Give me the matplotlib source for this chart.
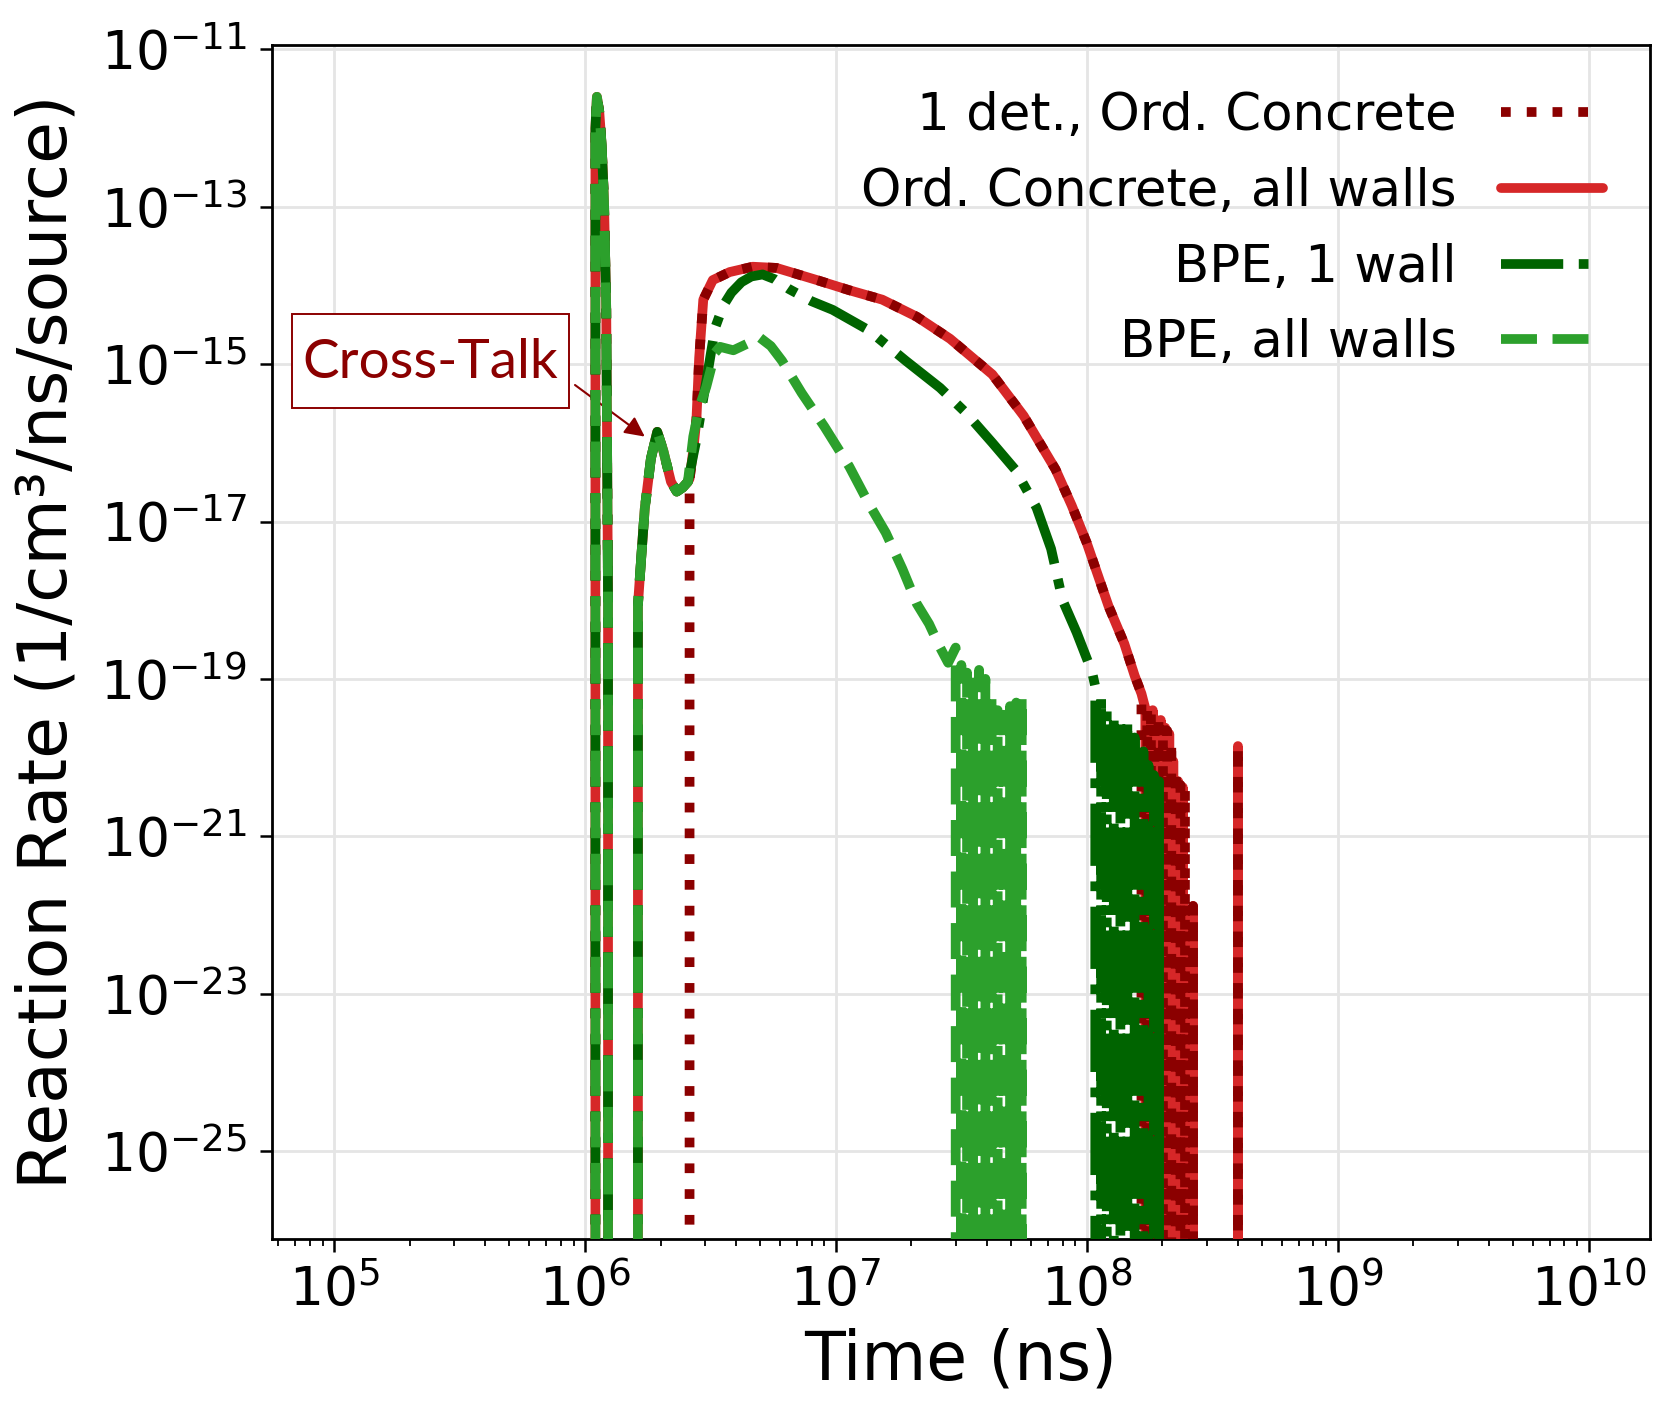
import numpy as np
import matplotlib
matplotlib.use("Agg")
import matplotlib.pyplot as plt
from matplotlib.ticker import NullLocator, LogLocator
from matplotlib.patches import Rectangle

# ---------------- data ----------------
# shared early spike (all four series overlap)
spike_t = [1.09e6, 1.10e6, 1.115e6, 1.14e6, 1.165e6, 1.19e6, 1.215e6, 1.235e6, 1.25e6]
spike_r = [0, 1e-12, 2.5e-12, 1.6e-12, 6e-13, 1.2e-13, 5e-15, 1e-18, 0]

# cross-talk bump (all-wall runs and BPE 1 wall)
bump_t = [1.60e6, 1.625e6, 1.68e6, 1.73e6, 1.83e6, 1.94e6, 2.05e6, 2.20e6, 2.32e6, 2.45e6, 2.57e6]
bump_r = [0, 8.7e-19, 4e-18, 1.45e-17, 6.3e-17, 1.38e-16, 8e-17, 3.2e-17, 2.4e-17, 2.7e-17, 3.2e-17]
bump_r_1det = [0, 0, 0, 0, 0, 0, 0, 0, 0, 0, 0]

# Ordinary concrete, main hump + tail
conc_t = [2.61e6, 2.70e6, 2.78e6, 2.85e6, 2.96e6, 3.23e6, 3.77e6, 4.66e6, 5.8e6, 8.4e6,
          1.13e7, 1.53e7, 2.1e7, 2.85e7, 4.2e7, 5.6e7, 7.5e7, 8.7e7, 1.0e8, 1.22e8,
          1.41e8, 1.55e8, 1.65e8,
          1.71e8, 1.74e8, 1.77e8, 1.80e8, 1.83e8, 1.86e8, 1.89e8, 1.93e8, 1.97e8, 2.01e8,
          2.05e8, 2.09e8, 2.13e8, 2.17e8, 2.21e8, 2.26e8, 2.31e8, 2.36e8, 2.41e8, 2.46e8,
          2.60e8, 2.65e8, 2.70e8,
          3.95e8, 4.00e8, 4.05e8]
conc_all_r = [3.5e-17, 8e-17, 2e-16, 1.2e-15, 6.6e-15, 1.17e-14, 1.48e-14, 1.73e-14, 1.67e-14, 1.17e-14,
              8.7e-15, 6.6e-15, 4e-15, 2.1e-15, 7.4e-16, 2.2e-16, 4.6e-17, 1.6e-17, 5.3e-18, 8.4e-19,
              2.8e-19, 1.1e-19, 6.5e-20,
              4.2e-20, 0, 3.5e-20, 0, 4e-20, 0, 3e-20, 0, 3e-20, 0,
              2.4e-20, 0, 2e-20, 0, 9e-21, 0, 5e-21, 0, 4.2e-21, 0,
              0, 1.3e-22, 0,
              0, 1.4e-20, 0]
conc_1det_r = [3.4e-17, 8e-17, 2e-16, 1.2e-15, 6.6e-15, 1.17e-14, 1.48e-14, 1.73e-14, 1.67e-14, 1.17e-14,
               8.7e-15, 6.6e-15, 4e-15, 2.1e-15, 7.4e-16, 2.2e-16, 4.6e-17, 1.6e-17, 5.3e-18, 8.4e-19,
               2.8e-19, 1.1e-19, 6.5e-20,
               0, 4e-20, 0, 3.8e-20, 0, 3.2e-20, 0, 3.4e-20, 0, 2.6e-20,
               0, 2.2e-20, 0, 1.6e-20, 0, 7e-21, 0, 4.5e-21, 0, 4e-21,
               0, 1.3e-22, 0,
               0, 1.4e-20, 0]

# BPE, 1 wall
bpe1_t = [2.61e6, 2.70e6, 2.78e6, 2.90e6, 3.04e6, 3.3e6, 3.55e6, 3.83e6, 4.2e6, 4.6e6,
          5.1e6, 5.7e6, 6.5e6, 8.0e6, 9.7e6, 1.35e7, 1.9e7, 2.6e7, 3.3e7, 4.2e7,
          5.2e7, 6.3e7, 7.2e7, 8.0e7, 9.1e7, 1.0e8, 1.05e8,
          1.08e8, 1.11e8, 1.14e8, 1.17e8, 1.20e8, 1.24e8, 1.28e8, 1.32e8, 1.36e8, 1.40e8,
          1.45e8, 1.50e8, 1.55e8, 1.58e8, 1.66e8, 1.68e8, 1.72e8, 1.76e8, 1.80e8, 1.85e8,
          1.90e8, 1.94e8, 1.97e8]
bpe1_r = [4e-17, 7e-17, 1.1e-16, 2.5e-16, 6e-16, 2.9e-15, 5.5e-15, 8.1e-15, 1.1e-14, 1.3e-14,
          1.38e-14, 1.2e-14, 9e-15, 6.3e-15, 4.9e-15, 2.7e-15, 1.1e-15, 5e-16, 2.4e-16, 1e-16,
          4.5e-17, 1.5e-17, 4.5e-18, 1e-18, 3.9e-19, 1.8e-19, 1.2e-19,
          8e-20, 0, 6e-20, 0, 4e-20, 0, 3.5e-20, 0, 2.8e-20, 0,
          3e-20, 0, 1.8e-20, 0, 0, 1.2e-20, 0, 8e-21, 0, 6e-21,
          0, 5e-21, 0]

# BPE, all walls
bpeall_t = [2.70e6, 2.85e6, 3.04e6, 3.3e6, 3.45e6, 3.9e6, 4.5e6, 4.95e6, 5.5e6, 6.1e6,
            7.3e6, 9.0e6, 1.13e7, 1.35e7, 1.58e7, 1.84e7, 2.1e7, 2.35e7, 2.6e7, 2.8e7,
            3.0e7, 3.08e7, 3.16e7, 3.24e7, 3.33e7, 3.42e7, 3.52e7, 3.62e7, 3.72e7, 3.83e7,
            3.94e7, 4.05e7, 4.17e7, 4.29e7, 4.41e7, 4.54e7, 4.67e7, 4.80e7, 4.94e7, 5.08e7,
            5.23e7, 5.38e7, 5.50e7, 5.60e7]
bpeall_r = [1.2e-16, 2.8e-16, 5.1e-16, 1.4e-15, 1.66e-15, 1.5e-15, 1.86e-15, 2.2e-15, 1.7e-15, 1.1e-15,
            4.3e-16, 1.6e-16, 5e-17, 1.7e-17, 7.2e-18, 2.5e-18, 9e-19, 5e-19, 2.5e-19, 1.6e-19,
            2.5e-19, 0, 1.5e-19, 0, 1.2e-19, 0, 9e-20, 0, 1.3e-19, 0,
            1e-19, 0, 6e-20, 0, 4e-20, 0, 3.5e-20, 0, 4.5e-20, 0,
            5e-20, 0, 6e-20, 0]

labels = ["1 det., Ord. Concrete", "Ord. Concrete, all walls", "BPE, 1 wall", "BPE, all walls"]

# ---------------- figure ----------------
plt.rcParams['font.family'] = ['DejaVu Sans']
fig = plt.figure(figsize=(16.53, 14.04), dpi=100)
ax = fig.add_axes([0.1646, 0.1175, 0.8334, 0.8505])
ax.set_xscale('log')
ax.set_yscale('log')

lw = 7
common = dict(lw=lw, solid_joinstyle='round', dash_joinstyle='round', solid_capstyle='round')

t_all = spike_t + bump_t + conc_t
ax.plot(t_all, spike_r + bump_r + conc_all_r, color='#d62728', ls='-', label=labels[1], zorder=3, **common)
ax.plot(t_all, spike_r + bump_r_1det + conc_1det_r, color='#8b0000', ls=':', label=labels[0], zorder=4, **common)
ax.plot(spike_t + bump_t + bpe1_t, spike_r + bump_r + bpe1_r, color='#006400', ls='-.', label=labels[2], zorder=5, **common)
ax.plot(spike_t + bump_t + bpeall_t, spike_r + bump_r + bpeall_r, color='#2ca02c', ls='--', label=labels[3], zorder=6, **common)

ax.set_xlim(5.66e4, 1.75e10)
ax.set_ylim(7.6e-27, 1.14e-11)
ax.set_yticks([1e-25, 1e-23, 1e-21, 1e-19, 1e-17, 1e-15, 1e-13, 1e-11])
ax.yaxis.set_minor_locator(NullLocator())
ax.xaxis.set_major_locator(LogLocator(base=10, numticks=20))
ax.xaxis.set_minor_locator(LogLocator(base=10, subs=np.arange(2, 10), numticks=20))

ax.grid(True, which='major', color='#e5e5e5', lw=2.0, zorder=0)
ax.set_axisbelow(True)
for s in ax.spines.values():
    s.set_linewidth(2.0)
ax.tick_params(which='major', length=9, width=1.8, labelsize=38.5, pad=9)
ax.tick_params(which='minor', length=5, width=1.3)

ax.set_xlabel("Time (ns)", fontsize=48)
ax.set_ylabel("Reaction Rate (1/cm³/ns/source)", fontsize=49)
ax.yaxis.set_label_coords(-0.139, 0.5)
ax.xaxis.set_label_coords(0.5, -0.074)

# legend: handles ordered as in reference
h, l = ax.get_legend_handles_labels()
order = [l.index(x) for x in labels]
ax.legend([h[i] for i in order], [l[i] for i in order], loc='upper right', frameon=False,
          markerfirst=False, fontsize=37, labelspacing=0.5, handletextpad=0.85,
          borderaxespad=0.5)

# cross-talk annotation (box + text)
W, H = 1653.0, 1404.0
fig.patches.append(Rectangle((292 / W, 1 - 408 / H), (569 - 292) / W, (408 - 314) / H,
                             transform=fig.transFigure, fc='white', ec='#8b0000', lw=1.4, zorder=10))
fig.text(430.5 / W, 1 - 363 / H, "Cross-Talk", family=['Lato', 'DejaVu Sans'], fontsize=39.5,
         color='#8b0000', ha='center', va='center', zorder=11)
ax.annotate('', xy=(1.73e6, 1.2e-16), xycoords='data',
            xytext=(575 / W, 1 - 385 / H), textcoords='figure fraction',
            arrowprops=dict(arrowstyle='-|>', color='#8b0000', lw=1.5, mutation_scale=30,
                            shrinkA=0, shrinkB=0))

fig.savefig("out.png", dpi=100)
